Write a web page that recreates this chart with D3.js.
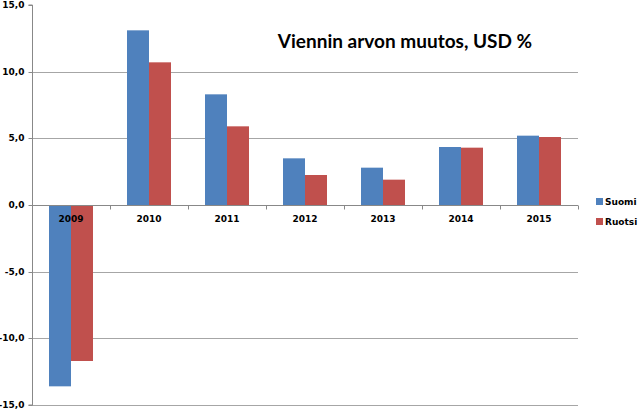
<!DOCTYPE html>
<html>
<head>
<meta charset="utf-8">
<script src="https://cdn.jsdelivr.net/npm/d3@7"></script>
<style>
  body { margin: 0; background: #fff; }
  text { font-family: 'DejaVu Sans', sans-serif; font-weight: bold; fill: #000; }
</style>
</head>
<body>
<div id="chart"></div>
<script>
// data
var years = ['2009', '2010', '2011', '2012', '2013', '2014', '2015']
var seriesNames = ['Suomi', 'Ruotsi']
var suomi = [-13.6, 13.1, 8.3, 3.5, 2.8, 4.35, 5.2]
var ruotsi = [-11.7, 10.7, 5.9, 2.25, 1.9, 4.3, 5.1]
var yTicks = [-15, -10, -5, 0, 5, 10, 15]
var title = 'Viennin arvon muutos, USD %'

;(function () {
  var margin = { top: 5, right: 62, bottom: 11, left: 32 }
  var width = 640 - margin.left - margin.right
  var height = 416 - margin.top - margin.bottom

  var svg = d3.select('#chart')
    .append('svg')
    .attr('width', 640)
    .attr('height', 416)
    .append('g')
    .attr('transform', 'translate(' + margin.left + ',' + margin.top + ')')

  var x0 = d3.scaleBand()
    .domain(years)
    .range([0, width])
    .paddingInner(0.436)
    .paddingOuter(0.218)

  var x1 = d3.scaleBand()
    .domain(seriesNames)
    .range([0, x0.bandwidth()])

  var y = d3.scaleLinear()
    .domain([-15, 15])
    .range([height, 0])

  var colors = d3.scaleOrdinal()
    .domain(seriesNames)
    .range(['#4F81BD', '#C0504D'])

  var rows = years.map(function (yr, i) {
    return { year: yr, values: [
      { name: 'Suomi', value: suomi[i] },
      { name: 'Ruotsi', value: ruotsi[i] }
    ] }
  })

  // gridlines (none at the top)
  svg.append('g')
    .selectAll('line')
    .data(yTicks.filter(function (t) { return t !== 15 && t !== 0 }))
    .enter().append('line')
    .attr('x1', 0)
    .attr('x2', width)
    .attr('y1', function (d) { return Math.round(y(d)) + 0.5 })
    .attr('y2', function (d) { return Math.round(y(d)) + 0.5 })
    .attr('stroke', '#a6a6a6')

  // bars
  svg.append('g')
    .selectAll('g')
    .data(rows)
    .enter().append('g')
    .attr('transform', function (d) { return 'translate(' + x0(d.year) + ',0)' })
    .selectAll('rect')
    .data(function (d) { return d.values })
    .enter().append('rect')
    .attr('x', function (d) { return x1(d.name) })
    .attr('width', x1.bandwidth())
    .attr('y', function (d) { return y(Math.max(0, d.value)) })
    .attr('height', function (d) { return Math.abs(y(d.value) - y(0)) })
    .attr('fill', function (d) { return colors(d.name) })

  // y axis
  var yAxis = d3.axisLeft(y)
    .tickValues(yTicks)
    .tickSize(4)
    .tickPadding(4)
    .tickFormat(function (d) { return d3.format('.1f')(d).replace('.', ',').replace('−', '-') })

  var ya = svg.append('g')
    .attr('class', 'axis y-axis')
    .attr('transform', 'translate(0.5,0)')
    .call(yAxis)
  ya.select('.domain').attr('stroke', '#888').attr('d', 'M-4,' + y(15) + 'H0V' + y(-15) + 'H-4')
  ya.selectAll('.tick line').attr('stroke', '#888')
  ya.selectAll('.tick text').style('font-size', '9px').attr('fill', '#000')
  ya.selectAll('.tick').attr('transform', function (d) {
    return 'translate(0,' + (Math.round(y(d)) + 0.5) + ')'
  })

  // category axis on the zero line
  var zeroY = Math.round(y(0)) + 0.5
  var xa = svg.append('g')
    .attr('class', 'axis x-axis')
    .attr('transform', 'translate(0,' + zeroY + ')')
  xa.append('line')
    .attr('x1', 0).attr('x2', width)
    .attr('stroke', '#888')
  xa.selectAll('line.tk')
    .data(years.concat(['end']))
    .enter().append('line')
    .attr('class', 'tk')
    .attr('x1', function (d, i) { return Math.round(i * x0.step()) + 0.5 })
    .attr('x2', function (d, i) { return Math.round(i * x0.step()) + 0.5 })
    .attr('y1', 0).attr('y2', 4)
    .attr('stroke', '#888')
  xa.selectAll('text')
    .data(years)
    .enter().append('text')
    .attr('x', function (d) { return x0(d) + x0.bandwidth() / 2 })
    .attr('y', 16)
    .attr('text-anchor', 'middle')
    .style('font-size', '9px')
    .text(function (d) { return d })

  // title
  svg.append('text')
    .attr('x', 373)
    .attr('y', 43)
    .attr('text-anchor', 'middle')
    .style('font-family', "Lato, sans-serif")
    .style('font-weight', 'bold')
    .style('font-size', '19px')
    .text(title)

  // legend
  var legend = svg.append('g')
    .attr('transform', 'translate(' + (width + 18) + ',' + 193 + ')')
  var items = legend.selectAll('g')
    .data(seriesNames)
    .enter().append('g')
    .attr('transform', function (d, i) { return 'translate(0,' + (i * 20) + ')' })
  items.append('rect')
    .attr('width', 7).attr('height', 7)
    .attr('fill', function (d) { return colors(d) })
  items.append('text')
    .attr('x', 9)
    .attr('y', 7)
    .style('font-size', '9px')
    .text(function (d) { return d })
})()
</script>
</body>
</html>
